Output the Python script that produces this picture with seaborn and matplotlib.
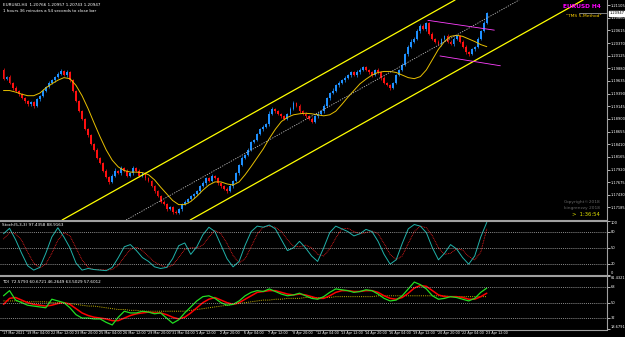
import numpy as np
import pandas as pd
import matplotlib
matplotlib.use("Agg")
import matplotlib.pyplot as plt
import seaborn as sns

# ---------------- data ----------------
open_first = 1.1985
closes = [1.1968,1.1972,1.1960,1.1950,1.1945,1.1938,1.1930,1.1925,1.1918,1.1922,
          1.1915,1.1928,1.1935,1.1945,1.1952,1.1960,1.1965,1.1972,1.1978,1.1982,
          1.1975,1.1980,1.1965,
          1.1945,1.1925,1.1905,1.1890,1.1870,1.1858,1.1842,1.1830,1.1815,1.1805,1.1790,1.1778,1.1768,
          1.1780,1.1790,1.1785,1.1795,1.1790,1.1780,1.1785,1.1795,1.1790,1.1780,1.1785,1.1775,1.1770,
          1.1760,1.1750,1.1740,1.1730,1.1725,1.1715,1.1720,1.1710,1.1708,1.1715,
          1.1725,1.1730,1.1735,1.1740,1.1745,1.1750,1.1760,
          1.1765,1.1775,1.1770,1.1780,1.1775,1.1765,1.1760,
          1.1755,1.1750,1.1760,1.1770,1.1785,
          1.1800,1.1815,1.1820,1.1830,1.1845,1.1850,1.1860,1.1870,
          1.1875,1.1880,1.1900,1.1910,1.1905,
          1.1900,1.1895,1.1890,1.1900,1.1910,1.1920,1.1915,1.1905,1.1900,1.1895,
          1.1890,1.1885,1.1895,1.1900,1.1905,1.1915,
          1.1930,1.1940,1.1945,1.1955,1.1960,1.1965,1.1970,1.1975,1.1980,
          1.1975,1.1980,1.1985,1.1990,1.1985,1.1980,1.1975,1.1985,1.1980,1.1970,
          1.1960,1.1955,1.1950,1.1960,1.1975,1.1985,
          1.1995,1.2015,1.2030,1.2040,1.2045,1.2060,1.2070,1.2065,1.2075,
          1.2055,1.2045,1.2040,1.2035,1.2045,1.2050,1.2040,1.2035,1.2045,1.2050,
          1.2040,1.2030,1.2020,1.2015,1.2025,1.2030,
          1.2045,1.2060,1.2075,1.2095]
# wick lengths in pips (upper / lower)
up_wick = [3,2,4,2,3,2,2,3,2,3, 2,3,2,3,2,4,3,2,3,4, 3,4,2,3,2,2,3,2,2,3,
           2,3,2,2,3,2,3,4,2,3, 2,3,2,4,2,3,2,2,3,2, 2,3,2,2,3,2,2,3,2,3,
           3,2,3,2,3,2,4,3,2,3, 2,3,2,2,3,3,2,3,2,3, 2,4,3,2,3,2,3,2,5,3,
           2,3,2,3,2,3,4,2,3,2, 3,2,3,2,3,2,3,2,3,4, 2,3,2,3,2,3,2,4,3,2,
           3,2,3,2,3,2,3,2,3,2, 3,2,3,2,3,4,3,5,3,4, 3,2,3,2,3,2,3,4,2,3,
           2,3,2,3,2,3,2,3,3,4, 2]
dn_wick = [2,3,2,3,2,3,2,4,3,2, 3,2,3,2,3,2,2,3,2,3, 2,3,3,2,3,2,3,2,3,2,
           3,2,3,2,2,4,2,3,2,3, 2,3,2,3,2,3,2,3,2,2, 3,2,3,2,3,2,4,3,2,3,
           2,3,2,3,2,3,2,3,2,3, 2,3,4,2,3,2,3,2,3,2, 3,2,3,2,3,2,3,2,3,2,
           3,2,3,2,3,2,3,2,3,2, 3,2,3,2,3,2,3,2,3,2, 2,3,2,3,2,3,2,3,2,3,
           3,2,3,2,3,4,3,2,3,2, 3,2,3,2,3,2,3,2,3,2, 4,3,2,3,2,3,2,3,2,3,
           3,2,3,4,3,2,3,2,3,2, 2]

# indicator samples every 2 bars
stoch_main = [76,86,65,40,17,9,14,40,70,87,70,50,22,9,12,10,9,8,14,32,52,56,45,32,25,15,12,14,30,54,
              59,38,52,74,88,80,55,30,15,25,55,80,90,88,92,85,65,45,50,62,50,35,25,50,78,90,85,80,72,76,
              84,80,62,38,20,28,58,85,93,90,78,50,28,40,56,48,32,20,35,70,97]
stoch_signal = [66,78,76,64,42,22,13,20,40,64,78,72,50,28,14,10,10,9,10,18,33,47,51,45,34,24,18,14,18,32,
                47,50,50,55,70,82,76,58,36,22,30,52,75,88,90,88,80,65,53,52,55,50,38,35,48,68,85,86,80,76,
                78,81,76,58,38,28,35,58,80,90,87,72,50,38,40,48,46,34,28,42,85]
tdi_green = [58,64,53,50,47,46,45,44,54,52,50,44,36,32,32,31,31,27,24,33,40,38,38,40,39,37,38,32,26,30,
             38,45,52,57,58,55,50,47,48,52,58,62,64,63,66,63,60,58,59,61,58,55,54,57,62,66,65,64,62,63,
             65,64,60,55,52,53,58,66,74,71,66,58,54,55,57,56,54,52,55,62,67]
tdi_red = [48,55,56,53,50,48,47,46,47,49,50,48,43,38,35,33,32,31,29,29,32,35,37,38,39,38,38,36,33,31,
           33,38,44,50,54,56,53,50,48,50,54,58,62,63,64,64,62,60,59,60,59,57,55,55,58,62,64,64,63,63,
           64,64,62,58,55,54,56,61,67,70,69,64,59,57,57,57,56,54,54,57,61]
tdi_yellow = [52,52,52,51,51,51,51,51,50,50,50,49,48,47,46,46,45,44,43,42,42,41,41,40,40,40,40,40,40,40,
              40,41,42,43,44,45,46,47,48,49,50,51,52,53,53,54,54,55,55,55,56,56,56,56,56,57,57,57,57,57,
              57,57,58,58,58,58,58,58,58,58,58,58,58,58,57,57,57,57,57,57,57]
ma_yellow = [1.1945,1.1945,1.1942,1.1938,1.1935,1.1935,1.1940,1.1950,1.1958,1.1965,1.1970,1.1968,1.1955,1.1935,
             1.1910,1.1882,1.1855,1.1830,1.1810,1.1797,1.1790,1.1787,1.1787,1.1786,1.1782,1.1772,1.1758,1.1745,
             1.1732,1.1724,1.1724,1.1730,1.1740,1.1752,1.1762,1.1768,1.1768,1.1764,1.1762,1.1768,1.1782,1.1798,
             1.1815,1.1832,1.1852,1.1870,1.1885,1.1893,1.1898,1.1900,1.1901,1.1900,1.1898,1.1896,1.1898,1.1905,
             1.1918,1.1932,1.1945,1.1958,1.1967,1.1975,1.1980,1.1982,1.1982,1.1980,1.1975,1.1970,1.1968,1.1972,
             1.1985,1.2005,1.2025,1.2040,1.2050,1.2052,1.2050,1.2045,1.2040,1.2034,1.2030]

lower_line = [(61.8, 1.16942), (191.9, 1.21204)]
upper_line = [(19.4, 1.16942), (149.5, 1.21204)]
mid_line = [(40.6, 1.16942), (170.7, 1.21204)]
pink_upper = [(140.5, 1.2081), (162.5, 1.2062)]
pink_lower = [(144.5, 1.2012), (164.5, 1.1993)]

date_labels = ["17 Mar 2021", "19 Mar 04:00", "22 Mar 12:00", "23 Mar 20:00", "25 Mar 04:00",
               "26 Mar 12:00", "29 Mar 20:00", "31 Mar 04:00", "1 Apr 12:00", "2 Apr 20:00",
               "6 Apr 04:00", "7 Apr 12:00", "8 Apr 20:00", "12 Apr 04:00", "13 Apr 12:00",
               "14 Apr 20:00", "16 Apr 04:00", "19 Apr 12:00", "20 Apr 20:00", "22 Apr 04:00",
               "23 Apr 12:00"]
price_ticks = [1.16940, 1.17185, 1.17430, 1.17675, 1.17920, 1.18165, 1.18410, 1.18655, 1.18900,
               1.19145, 1.19390, 1.19635, 1.19880, 1.20125, 1.20370, 1.20615, 1.20860, 1.21105]
bid = 1.20947
stoch_levels = [80, 50, 20]
stoch_labels = [(100, "100", "top"), (80, "80", "center"), (50, "50", "center"),
                (20, "20", "center"), (0, "0", "bottom")]
tdi_levels = [68, 50, 32]
tdi_labels = [(81.4321, "81.4321", "top"), (68, "68", "center"), (50, "50", "center"),
              (32, "32", "center"), (18.6791, "18.6791", "bottom")]

# ---------------- figure ----------------
sns.set_theme(style="dark")
plt.rcParams['font.family'] = ['DejaVu Sans']
W, H = 625, 337
fig = plt.figure(figsize=(W / 100, H / 100), dpi=100, facecolor="black")

def rect(x0, y0, x1, y1):
    return [x0 / W, 1 - y1 / H, (x1 - x0) / W, (y1 - y0) / H]

ax = fig.add_axes(rect(0, 0, 607, 220))
ax2 = fig.add_axes(rect(0, 220.7, 607, 275))
ax3 = fig.add_axes(rect(0, 275.7, 607, 329.5))

XL = (-1.16, 199.8)
grey = "#a0a0a0"
TS = 2.6
for a in (ax, ax2, ax3):
    a.set_facecolor("black")
    a.set_xlim(*XL)
    a.grid(False)
    for s in a.spines.values():
        s.set_color(grey)
        s.set_linewidth(0.8)
    a.spines['left'].set_visible(False)
    a.set_xticks([])
    a.yaxis.tick_right()
    a.tick_params(axis='y', colors="white", labelsize=TS, length=2, width=0.5, pad=0.8)
ax.spines['top'].set_visible(False)

n = len(closes)
idx = np.arange(n)
opens = [open_first] + closes[:-1]
df = pd.DataFrame({"i": idx, "open": opens, "close": closes,
                   "uw": up_wick[:n], "dw": dn_wick[:n]})
df["high"] = np.maximum(df["open"], df["close"]) + df["uw"] * 0.0001
df["low"] = np.minimum(df["open"], df["close"]) - df["dw"] * 0.0001
up = df["close"] >= df["open"]
bw = 0.62
bot = np.minimum(df["open"], df["close"])
hgt = np.abs(df["close"] - df["open"]).clip(lower=0.00004)
for mask, col in ((up, "#1e90ff"), (~up, "#ff1010")):
    ax.vlines(df["i"][mask], df["low"][mask], df["high"][mask], color=col, linewidth=0.5, zorder=3)
    ax.bar(df["i"][mask], hgt[mask], bottom=bot[mask], width=bw, color=col, linewidth=0, zorder=3)

ax.set_ylim(1.16942, 1.21204)
ax.set_yticks(price_ticks)
ax.set_yticklabels([f"{v:.5f}" for v in price_ticks])

# moving average (sampled every 2 bars)
ma_df = pd.DataFrame({"i": np.arange(0, 2 * len(ma_yellow), 2), "v": ma_yellow})
sns.lineplot(data=ma_df, x="i", y="v", ax=ax, color="#e8c000", linewidth=0.7, zorder=4)

# channel
for ln, col, ls in ((lower_line, "#ffff00", "-"), (upper_line, "#ffff00", "-"),
                    (mid_line, "#bbbbbb", (0, (1.5, 1.5))), (pink_upper, "#ff40ff", "-"),
                    (pink_lower, "#ff40ff", "-")):
    xs, ys = zip(*ln)
    ax.plot(xs, ys, color=col, linewidth=0.9 if col == "#ffff00" else 0.6, linestyle=ls, zorder=5)
ax.set_xlim(*XL)
ax.set_ylim(1.16942, 1.21204)
ax.set_xlabel(""); ax.set_ylabel("")

# bid line and label
ax.plot([190.5, 199.8], [bid, bid], color="#999999", linewidth=0.6, zorder=6)
ax.text(1.004, (bid - 1.16942) / (1.21204 - 1.16942), f"{bid:.5f}", transform=ax.transAxes,
        fontsize=TS, color="black", va="center", ha="left",
        bbox=dict(boxstyle="square,pad=0.12", fc="white", ec="white"))

# texts
fig.text(3 / W, 1 - 5 / H, "EURUSD,H4  1.20766 1.20957 1.20743 1.20947", color="white", fontsize=3.0, va="center")
fig.text(3 / W, 1 - 11 / H, "1 hours 36 minutes a 54 seconds to close bar", color="white", fontsize=3.0, va="center")
fig.text(601 / W, 1 - 7 / H, "EURUSD H4", color="#ff00ff", fontsize=4.2, fontweight="bold", ha="right", va="center")
fig.text(601 / W, 1 - 16 / H, "\"TMS 5-Method\"", color="#ffd000", fontsize=3.2, ha="right", va="center")
fig.text(600 / W, 1 - 202 / H, "Copyright©2018", color="#666666", fontsize=3.2, ha="right", va="center")
fig.text(600 / W, 1 - 208 / H, "kingrenzzy 2018", color="#666666", fontsize=3.2, ha="right", va="center")
fig.text(600 / W, 1 - 215 / H, ">  1:36:54", color="#e0e000", fontsize=3.8, ha="right", va="center")

def side_labels(a, specs):
    a.set_yticks([s[0] for s in specs])
    a.set_yticklabels([])
    for v, t, va in specs:
        a.text(1.006, v, t, transform=a.get_yaxis_transform(), color="white",
               fontsize=TS, ha="left", va=va)

# stochastic
st = pd.DataFrame({"i": np.arange(0, 2 * len(stoch_main), 2), "main": stoch_main, "sig": stoch_signal})
sns.lineplot(data=st, x="i", y="sig", ax=ax2, color="#ff2020", linewidth=0.6, linestyle=(0, (1, 1)))
sns.lineplot(data=st, x="i", y="main", ax=ax2, color="#20b2aa", linewidth=0.7)
for lv in stoch_levels:
    ax2.axhline(lv, color="#bbbbbb", linewidth=0.5, linestyle=(0, (1.5, 1.5)))
ax2.set_ylim(0, 100)
side_labels(ax2, stoch_labels)
ax2.set_xlim(*XL)
ax2.set_xlabel(""); ax2.set_ylabel("")
ax2.text(0.004, 0.92, "Stoch(5,3,3) 97.4358 88.9163", transform=ax2.transAxes, color="white",
         fontsize=3.0, va="center")

# TDI
td = pd.DataFrame({"i": np.arange(0, 2 * len(tdi_green), 2), "g": tdi_green, "r": tdi_red, "y": tdi_yellow})
sns.lineplot(data=td, x="i", y="y", ax=ax3, color="#c8b400", linewidth=0.7, linestyle=(0, (1, 1.2)))
sns.lineplot(data=td, x="i", y="r", ax=ax3, color="#ff0000", linewidth=1.1)
sns.lineplot(data=td, x="i", y="g", ax=ax3, color="#22dd22", linewidth=0.9)
for lv in tdi_levels:
    ax3.axhline(lv, color="#bbbbbb", linewidth=0.5, linestyle=(0, (1.5, 1.5)))
ax3.set_ylim(18.6791, 81.4321)
side_labels(ax3, tdi_labels)
ax3.set_xlim(*XL)
ax3.set_xlabel(""); ax3.set_ylabel("")
ax3.text(0.004, 0.88, "TDI  72.5793 60.6721 46.2649 63.5029 57.6012", transform=ax3.transAxes,
         color="white", fontsize=3.0, va="center")

# date labels
for k, lab in enumerate(date_labels):
    xb = 8 * k
    ax3.text(xb - 0.3, -0.07, lab, transform=ax3.get_xaxis_transform(), color="white",
             fontsize=2.4, ha="left", va="center")
    ax3.plot([xb - 0.4, xb - 0.4], [0, -0.03], transform=ax3.get_xaxis_transform(),
             color=grey, linewidth=0.5, clip_on=False)

fig.savefig("out.png", dpi=100, facecolor="black")
